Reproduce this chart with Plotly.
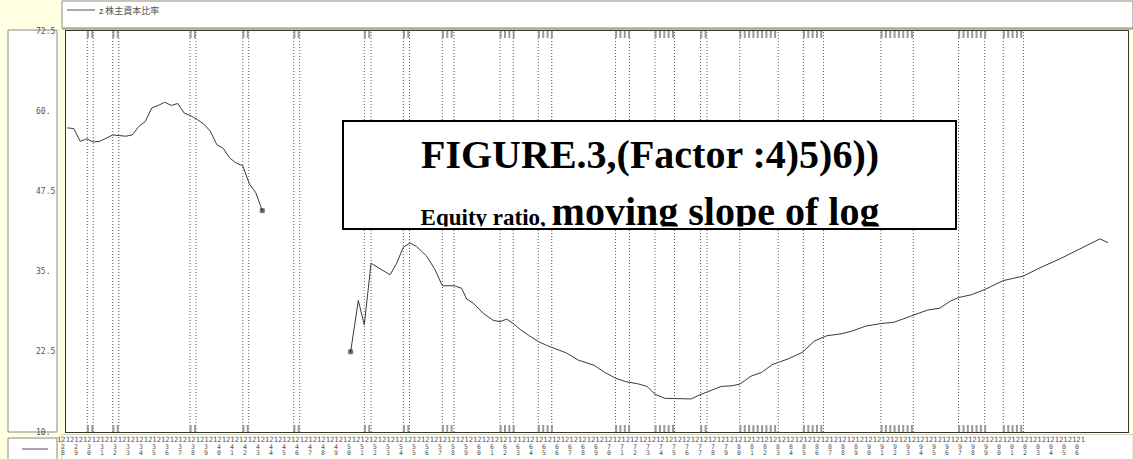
import numpy as np
import plotly.graph_objects as go

# ---------------- data ----------------
label_years = list(range(1928, 2007))
period_marks = ["121", "212"]

seg1_years = [1928.25, 1928.75, 1929.25, 1929.75, 1930.25, 1930.75, 1931.25, 1931.75,
              1932.25, 1932.75, 1933.25, 1933.75, 1934.25, 1934.75, 1935.25, 1935.75,
              1936.25, 1936.75, 1937.25, 1937.75, 1938.25, 1938.75, 1939.25, 1939.75,
              1940.25, 1940.75, 1941.25, 1941.75, 1942.25, 1942.75, 1943.25]
seg1_vals = [57.4, 57.3, 55.3, 55.7, 55.2, 55.3, 55.8, 56.3, 56.2, 56.1, 56.3, 57.6,
             58.4, 60.5, 60.9, 61.4, 60.9, 61.2, 59.7, 59.3, 58.7, 58.0, 56.9, 54.8,
             54.2, 52.7, 51.9, 51.5, 48.7, 47.3, 44.5]

seg2_years = [1950.05, 1950.64, 1951.10, 1951.62, 1953.08, 1953.59, 1954.10, 1954.62,
              1955.13, 1955.90, 1956.54, 1957.10, 1958.02, 1958.59, 1958.98, 1959.48,
              1960.25, 1961.02, 1961.54, 1962.05, 1962.56, 1963.08, 1963.72, 1964.48,
              1965.13, 1965.90, 1966.67, 1967.56, 1968.77, 1969.59, 1970.41, 1971.22,
              1972.17, 1972.85, 1973.45, 1974.21, 1975.15, 1976.24, 1976.92, 1977.59,
              1978.55, 1979.36, 1979.98, 1980.85, 1981.67, 1982.48, 1983.70, 1984.78,
              1985.74, 1986.68, 1987.77, 1988.58, 1989.67, 1990.84, 1991.84, 1993.33,
              1994.42, 1995.37, 1996.18, 1996.81, 1997.81, 1998.82, 2000.25, 2001.80,
              2003.08, 2004.62, 2006.15, 2007.69, 2008.31]
seg2_vals = [22.5, 30.5, 26.7, 36.3, 34.5, 36.3, 38.8, 39.45, 38.9, 37.4, 35.3, 32.8,
             32.8, 32.4, 30.7, 30.1, 28.5, 27.4, 27.2, 27.6, 26.9, 26.0, 25.1, 24.1,
             23.5, 22.95, 22.3, 21.2, 20.4, 19.3, 18.4, 17.85, 17.5, 17.1, 15.9, 15.25,
             15.2, 15.15, 15.8, 16.3, 17.1, 17.2, 17.45, 18.7, 19.3, 20.5, 21.4, 22.4,
             24.2, 25.0, 25.3, 25.7, 26.5, 26.9, 27.1, 28.2, 29.0, 29.3, 30.4, 30.95,
             31.4, 32.2, 33.6, 34.3, 35.6, 37.0, 38.6, 40.1, 39.5]

rec_start = [1929.79, 1931.75, 1937.69, 1941.75, 1945.67, 1951.10, 1954.10, 1957.10,
             1961.54, 1964.48, 1970.42, 1973.46, 1976.97, 1979.98, 1984.87, 1990.84,
             1996.81, 2000.25]
rec_end = [1930.25, 1932.21, 1938.15, 1942.21, 1946.13, 1951.62, 1954.58, 1958.00,
           1962.56, 1965.52, 1971.49, 1974.96, 1977.46, 1982.94, 1986.42, 1993.33,
           1998.82, 2001.80]

y_ticks = [72.5, 60, 47.5, 35, 22.5, 10]
y_tick_text = ["72.5", "60.", "47.5", "35.", "22.5", "10."]

legend_label = "z 株主資本比率"
title_line1 = "FIGURE.3,(Factor :4)5)6))"
title_line2a = "Equity ratio, "
title_line2b = "moving slope of log"

# ---------------- geometry ----------------
W, H = 1133, 459
L, R, T, B = 66, 1128, 31, 432
X_RANGE = [1928 + 2 / 13, 1928 + (R - 64) / 13]
Y_RANGE = [10, 72.5]


def pxp(xp):
    return (xp - L) / (R - L)


def pyp(yp):
    return (B - yp) / (B - T)


def year_to_paper(yr):
    return (yr - X_RANGE[0]) / (X_RANGE[1] - X_RANGE[0])


MONO = "DejaVu Sans Mono"
GREY_TXT = "#555555"

fig = go.Figure()
fig.add_trace(go.Scatter(
    x=seg1_years, y=seg1_vals, mode="lines+markers",
    line=dict(color="#3a3a3a", width=1),
    marker=dict(size=[0] * (len(seg1_vals) - 1) + [4], symbol="square", color="#222"),
    hoverinfo="skip"))
fig.add_trace(go.Scatter(
    x=seg2_years, y=seg2_vals, mode="lines+markers",
    line=dict(color="#3a3a3a", width=1),
    marker=dict(size=[4] + [0] * (len(seg2_vals) - 1), symbol="square", color="#222"),
    hoverinfo="skip"))

shapes = []
box_line = dict(color="#8a8a8a", width=1)
# white boxes in the margins
shapes.append(dict(type="rect", xref="paper", yref="paper", x0=pxp(62), x1=pxp(1133),
                   y0=pyp(28), y1=pyp(1), line=box_line, fillcolor="white", layer="above"))
shapes.append(dict(type="rect", xref="paper", yref="paper", x0=pxp(8), x1=pxp(57),
                   y0=pyp(432), y1=pyp(30), line=box_line, fillcolor="white", layer="above"))
shapes.append(dict(type="rect", xref="paper", yref="paper", x0=pxp(62), x1=pxp(1133),
                   y0=pyp(460), y1=pyp(434.5), line=dict(color="#d8d4b4", width=1),
                   fillcolor="white", layer="above"))
shapes.append(dict(type="rect", xref="paper", yref="paper", x0=pxp(8), x1=pxp(57),
                   y0=pyp(460), y1=pyp(438), line=box_line, fillcolor="white", layer="above"))
# olive rule above the plot area
shapes.append(dict(type="line", xref="paper", yref="paper", x0=pxp(62), x1=pxp(1133),
                   y0=pyp(29), y1=pyp(29), line=dict(color="#8b8660", width=1), layer="above"))
# legend line sample
shapes.append(dict(type="line", xref="paper", yref="paper", x0=pxp(67), x1=pxp(95),
                   y0=pyp(10), y1=pyp(10), line=dict(color="#555", width=1), layer="above"))
shapes.append(dict(type="line", xref="paper", yref="paper", x0=pxp(22), x1=pxp(48),
                   y0=pyp(449), y1=pyp(449), line=dict(color="#555", width=1), layer="above"))

# recession periods: dotted lines + small bars top and bottom
bar_h = 7 / (B - T)
for s, e in zip(rec_start, rec_end):
    for xv in (s, e):
        shapes.append(dict(type="line", xref="x", yref="paper", x0=xv, x1=xv, y0=0, y1=1,
                           line=dict(color="#555", width=1, dash="1px,2px"), layer="above"))
    for t in np.arange(s, e + 1e-6, 1 / 3):
        shapes.append(dict(type="line", xref="x", yref="paper", x0=t + 0.05, x1=t + 0.05,
                           y0=1 - bar_h, y1=1, line=dict(color="#9a9a9a", width=2), layer="above"))
        shapes.append(dict(type="line", xref="x", yref="paper", x0=t + 0.05, x1=t + 0.05,
                           y0=0, y1=bar_h, line=dict(color="#9a9a9a", width=2), layer="above"))

# title box
shapes.append(dict(type="rect", xref="paper", yref="paper", x0=pxp(343), x1=pxp(956),
                   y0=pyp(229), y1=pyp(121), line=dict(color="black", width=2),
                   fillcolor="white", layer="above"))

ann = []
for v, t in zip(y_ticks, y_tick_text):
    ann.append(dict(x=pxp(35), xref="paper", xanchor="left", y=v, yref="y", yanchor="middle",
                    text=t, showarrow=False, font=dict(family=MONO, size=8, color=GREY_TXT),
                    borderpad=0))
ann.append(dict(x=pxp(98), xref="paper", xanchor="left", y=pyp(10), yref="paper",
                yanchor="middle", text=legend_label, showarrow=False, borderpad=0,
                font=dict(family="Noto Sans CJK JP", size=9, color=GREY_TXT)))

for i, yr in enumerate(label_years):
    two = f"{yr % 100:02d}"
    ann.append(dict(x=year_to_paper(yr), xref="paper", xanchor="center", y=pyp(439.5),
                    yref="paper", yanchor="middle", text=period_marks[i % 2],
                    showarrow=False, borderpad=0,
                    font=dict(family=MONO, size=7.2, color=GREY_TXT)))
    ann.append(dict(x=year_to_paper(yr - 0.1), xref="paper", xanchor="center", y=pyp(447),
                    yref="paper", yanchor="middle", text=two[0], showarrow=False, borderpad=0,
                    font=dict(family=MONO, size=6.5, color=GREY_TXT)))
    ann.append(dict(x=year_to_paper(yr - 0.1), xref="paper", xanchor="center", y=pyp(452.5),
                    yref="paper", yanchor="middle", text=two[1], showarrow=False, borderpad=0,
                    font=dict(family=MONO, size=6.5, color=GREY_TXT)))

# title texts
ann.append(dict(x=pxp(649.5), xref="paper", xanchor="center", y=pyp(132.4), yref="paper",
                yanchor="top", text=f"<b>{title_line1}</b>", showarrow=False,
                borderpad=0, borderwidth=0,
                font=dict(family="Liberation Serif", size=40, color="black")))
ann.append(dict(x=pxp(649.5), xref="paper", xanchor="center", y=pyp(189.4), yref="paper",
                yanchor="top", valign="top", width=606, height=37.6,
                text=f"<b><span style='font-size:23px'>{title_line2a}</span>{title_line2b}</b>",
                showarrow=False, borderpad=0, borderwidth=0,
                font=dict(family="Liberation Serif", size=40, color="black")))

axis_common = dict(showgrid=False, zeroline=False, showticklabels=False, ticks="",
                   showline=True, mirror=True, linecolor="#333", linewidth=1, fixedrange=True)
fig.update_layout(
    width=W, height=H,
    margin=dict(l=L, r=W - R, t=T, b=H - B, pad=0, autoexpand=False),
    paper_bgcolor="#FFFFE1", plot_bgcolor="white", showlegend=False,
    xaxis=dict(range=X_RANGE, **axis_common),
    yaxis=dict(range=Y_RANGE, **axis_common),
    shapes=shapes, annotations=ann,
)
fig.write_html("out.html", config={"displayModeBar": False},
               post_script="document.body.style.margin='0';document.body.style.overflow='hidden';")
